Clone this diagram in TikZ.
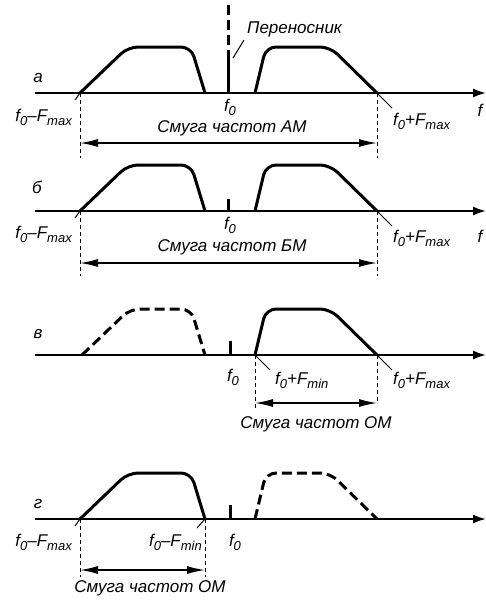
\documentclass[tikz,border=0pt]{standalone}
\usepackage{fontspec}
\setmainfont{Liberation Sans}
\usetikzlibrary{arrows.meta}
\newcommand{\mysub}[1]{\raisebox{-0.26em}{\fontsize{13}{14}\selectfont #1}}
\newcommand{\myfz}{f\mysub{0}}
\begin{document}
\begin{tikzpicture}[x=1pt,y=-1pt,
  font=\fontsize{17}{20}\selectfont\itshape,
  axis/.style={line width=2pt,-{Latex[length=13pt,width=9pt]}},
  spec/.style={line width=3pt, rounded corners=10pt, line join=round},
  ghost/.style={spec, dash pattern=on 10pt off 5pt},
  carrier/.style={line width=3pt},
  lead/.style={line width=1pt},
  guide/.style={line width=1pt, dash pattern=on 4pt off 3pt},
  band/.style={line width=1.4pt, {Latex[length=18pt,width=8pt]}-{Latex[length=18pt,width=8pt]}},
  lbl/.style={inner sep=0pt, anchor=base},
]
\useasboundingbox (0,0) rectangle (486,600);

% ================= panel a =================
\coordinate (aA0) at (35,93); \coordinate (aA1) at (486,93);
\draw[axis] (aA0) -- (aA1);
\coordinate (aL0) at (80,93); \coordinate (aL1) at (128,47);
\coordinate (aL2) at (191,47); \coordinate (aL3) at (205,93);
\coordinate (aR0) at (255,93); \coordinate (aR1) at (266,47);
\coordinate (aR2) at (330,47); \coordinate (aR3) at (377,93);
\draw[spec] (aL0) -- (aL1) -- (aL2) -- (aL3);
\draw[spec] (aR0) -- (aR1) -- (aR2) -- (aR3);
\coordinate (aLe) at (75,100); \coordinate (aRe) at (392,108);
\draw[lead] (aL0) -- (aLe);
\draw[lead] (aR3) -- (aRe);
\coordinate (aC0) at (228,5); \coordinate (aC1) at (228,56); \coordinate (aC2) at (228,93);
\draw[carrier, dash pattern=on 10pt off 5pt] (aC0) -- (aC1);
\draw[carrier] (aC1) -- (aC2);
\coordinate (aP0) at (233,58); \coordinate (aP1) at (244,40);
\draw[lead] (aP0) -- (aP1);
\node[lbl, anchor=base west] (aPer) at (247,33) {Переносник};
\node[lbl] (aLab) at (38,82) {а};
\node[lbl] (aF0) at (230,111) {\myfz};
\node[lbl, anchor=base east] (aFm) at (72,121) {\myfz–F\mysub{max}};
\node[lbl, anchor=base west] (aFp) at (393,125) {\myfz+F\mysub{max}};
\node[lbl] (aF) at (480,116) {f};
\node[lbl] (aBand) at (232,132) {Смуга частот АМ};
\coordinate (aG0) at (80,158); \coordinate (aG1) at (377,158);
\draw[guide] (aL0) -- (aG0);
\draw[guide] (aR3) -- (aG1);
\coordinate (aB0) at (80,143); \coordinate (aB1) at (377,143);
\draw[band] (aB0) -- (aB1);

% ================= panel b =================
\coordinate (bA0) at (35,211); \coordinate (bA1) at (486,211);
\draw[axis] (bA0) -- (bA1);
\coordinate (bL0) at (80,211); \coordinate (bL1) at (128,165);
\coordinate (bL2) at (191,165); \coordinate (bL3) at (205,211);
\coordinate (bR0) at (255,211); \coordinate (bR1) at (266,165);
\coordinate (bR2) at (330,165); \coordinate (bR3) at (377,211);
\draw[spec] (bL0) -- (bL1) -- (bL2) -- (bL3);
\draw[spec] (bR0) -- (bR1) -- (bR2) -- (bR3);
\coordinate (bLe) at (75,218); \coordinate (bRe) at (392,226);
\draw[lead] (bL0) -- (bLe);
\draw[lead] (bR3) -- (bRe);
\coordinate (bC0) at (228,199); \coordinate (bC1) at (228,211);
\draw[carrier] (bC0) -- (bC1);
\node[lbl] (bLab) at (37,193) {б};
\node[lbl] (bF0) at (230,229) {\myfz};
\node[lbl, anchor=base east] (bFm) at (72,238) {\myfz–F\mysub{max}};
\node[lbl, anchor=base west] (bFp) at (393,242) {\myfz+F\mysub{max}};
\node[lbl] (bF) at (480,242) {f};
\node[lbl] (bBand) at (232,251) {Смуга частот БМ};
\coordinate (bG0) at (80,276); \coordinate (bG1) at (377,276);
\draw[guide] (bL0) -- (bG0);
\draw[guide] (bR3) -- (bG1);
\coordinate (bB0) at (80,263); \coordinate (bB1) at (377,263);
\draw[band] (bB0) -- (bB1);

% ================= panel c =================
\coordinate (cA0) at (35,355); \coordinate (cA1) at (486,355);
\draw[axis] (cA0) -- (cA1);
\coordinate (cL0) at (82,355); \coordinate (cL1) at (130,309);
\coordinate (cL2) at (191,309); \coordinate (cL3) at (205,355);
\coordinate (cR0) at (255,355); \coordinate (cR1) at (266,309);
\coordinate (cR2) at (330,309); \coordinate (cR3) at (377,355);
\draw[ghost] (cL0) -- (cL1) -- (cL2) -- (cL3);
\draw[spec] (cR0) -- (cR1) -- (cR2) -- (cR3);
\coordinate (cLe) at (270,370); \coordinate (cRe) at (392,370);
\draw[lead] (cR0) -- (cLe);
\draw[lead] (cR3) -- (cRe);
\coordinate (cC0) at (230,341); \coordinate (cC1) at (230,355);
\draw[carrier] (cC0) -- (cC1);
\node[lbl] (cLab) at (38,338) {в};
\node[lbl] (cF0) at (233,381) {\myfz};
\node[lbl, anchor=base west] (cFn) at (275,384) {\myfz+F\mysub{min}};
\node[lbl, anchor=base west] (cFp) at (393,384) {\myfz+F\mysub{max}};
\node[lbl] (cF) at (489,383) {f};
\node[lbl] (cBand) at (316,428) {Смуга частот ОМ};
\coordinate (cG0) at (255,408); \coordinate (cG1) at (377,403);
\draw[guide] (cR0) -- (cG0);
\draw[guide] (cR3) -- (cG1);
\coordinate (cB0) at (255,403); \coordinate (cB1) at (377,403);
\draw[band] (cB0) -- (cB1);

% ================= panel d =================
\coordinate (dA0) at (35,519); \coordinate (dA1) at (486,519);
\draw[axis] (dA0) -- (dA1);
\coordinate (dL0) at (80,519); \coordinate (dL1) at (128,473);
\coordinate (dL2) at (191,473); \coordinate (dL3) at (205,519);
\coordinate (dR0) at (255,519); \coordinate (dR1) at (266,473);
\coordinate (dR2) at (330,473); \coordinate (dR3) at (377,519);
\draw[spec] (dL0) -- (dL1) -- (dL2) -- (dL3);
\draw[ghost] (dR0) -- (dR1) -- (dR2) -- (dR3);
\coordinate (dLe) at (75,526); \coordinate (dRe) at (197,528);
\draw[lead] (dL0) -- (dLe);
\draw[lead] (dL3) -- (dRe);
\coordinate (dC0) at (230,505); \coordinate (dC1) at (230,519);
\draw[carrier] (dC0) -- (dC1);
\node[lbl] (dLab) at (38,508) {г};
\node[lbl, anchor=base east] (dFm) at (72,546) {\myfz–F\mysub{max}};
\node[lbl, anchor=base east] (dFn) at (202,546) {\myfz–F\mysub{min}};
\node[lbl] (dF0) at (235,546) {\myfz};
\node[lbl] (dF) at (489,546) {f};
\node[lbl] (dBand) at (150,592) {Смуга частот ОМ};
\coordinate (dG0) at (80,577); \coordinate (dG1) at (205,577);
\draw[guide] (dL0) -- (dG0);
\draw[guide] (dL3) -- (dG1);
\coordinate (dB0) at (80,570); \coordinate (dB1) at (205,570);
\draw[band] (dB0) -- (dB1);
\end{tikzpicture}
\end{document}
